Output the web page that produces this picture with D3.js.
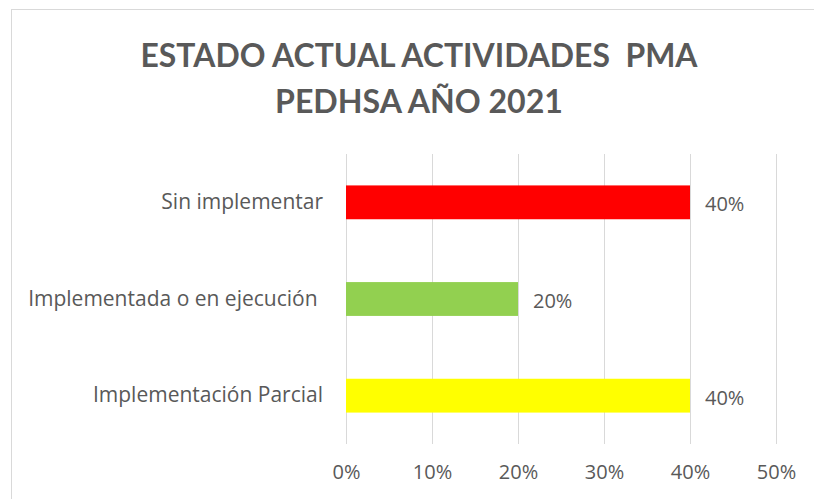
<!DOCTYPE html>
<html>
<head>
<meta charset="utf-8">
<script src="https://cdn.jsdelivr.net/npm/d3@7"></script>
<style>
  html, body { margin: 0; padding: 0; background: #fff; }
  svg { display: block; }
</style>
</head>
<body>
<svg id="chart" width="814" height="499"></svg>
<script>
// Activity status, top to bottom
const categories = ["Sin implementar", "Implementada o en ejecución ", "Implementación Parcial"];
const values = [0.40, 0.20, 0.40];
const barColors = ["#FF0000", "#92D050", "#FFFF00"];
const tickValues = [0, 0.1, 0.2, 0.3, 0.4, 0.5];
const titleLines = ["ESTADO ACTUAL ACTIVIDADES  PMA", "PEDHSA AÑO 2021"];

const svg = d3.select("#chart");
const titleFont = "Lato, 'Open Sans', sans-serif";
const font = "'Open Sans', sans-serif";
const textColor = "#595959";

// chart frame
svg.append("rect")
  .attr("x", 11.5).attr("y", 9.5)
  .attr("width", 820).attr("height", 500)
  .attr("fill", "#fff").attr("stroke", "#D9D9D9").attr("stroke-width", 1);

// title
const titleWidths = [557, 288];
svg.append("g").selectAll("text").data(titleLines).join("text")
  .attr("x", 419)
  .attr("y", (d, i) => 67 + i * 46)
  .attr("text-anchor", "middle")
  .attr("font-family", titleFont)
  .attr("font-weight", "bold")
  .attr("font-size", 33)
  .attr("fill", textColor)
  .attr("textLength", (d, i) => titleWidths[i])
  .attr("lengthAdjust", "spacingAndGlyphs")
  .style("white-space", "pre")
  .text(d => d);

const plot = { left: 346, right: 776, top: 154, bottom: 444 };

const x = d3.scaleLinear().domain([0, 0.5]).range([plot.left, plot.right]);
const y = d3.scaleBand().domain(categories)
  .range([plot.top, plot.bottom])
  .paddingInner(0.65).paddingOuter(0.325);

// vertical gridlines
svg.append("g").selectAll("line").data(tickValues).join("line")
  .attr("x1", d => Math.round(x(d)) + 0.5).attr("x2", d => Math.round(x(d)) + 0.5)
  .attr("y1", plot.top).attr("y2", plot.bottom)
  .attr("stroke", "#D9D9D9").attr("stroke-width", 1);

// x axis labels
const xAxis = d3.axisBottom(x).tickValues(tickValues)
  .tickFormat(d3.format(".0%")).tickSize(0).tickPadding(0);
const gx = svg.append("g").attr("transform", `translate(0, ${plot.bottom + 21})`).call(xAxis);
gx.select(".domain").remove();
gx.selectAll("text")
  .attr("font-family", font).attr("font-size", 20).attr("fill", textColor);

// y axis labels
const yAxis = d3.axisLeft(y).tickSize(0).tickPadding(23);
const gy = svg.append("g").attr("transform", `translate(${plot.left}, 0)`).call(yAxis);
gy.select(".domain").remove();
gy.selectAll("text")
  .attr("font-family", font).attr("font-size", 21).attr("fill", textColor)
  .style("white-space", "pre");

// bars
svg.append("g").selectAll("rect").data(categories).join("rect")
  .attr("x", x(0))
  .attr("y", d => y(d))
  .attr("width", (d, i) => x(values[i]) - x(0))
  .attr("height", y.bandwidth())
  .attr("fill", (d, i) => barColors[i]);

// value labels
svg.append("g").selectAll("text").data(categories).join("text")
  .attr("x", (d, i) => x(values[i]) + 15)
  .attr("y", d => y(d) + y.bandwidth() / 2 + 2)
  .attr("dy", "0.35em")
  .attr("font-family", font).attr("font-size", 20).attr("fill", textColor)
  .text((d, i) => d3.format(".0%")(values[i]));
</script>
</body>
</html>
